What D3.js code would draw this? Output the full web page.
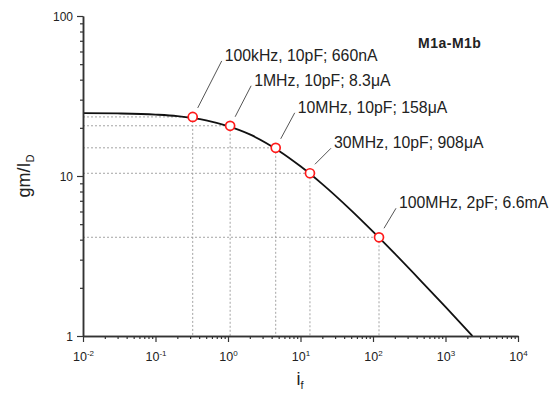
<!DOCTYPE html>
<html>
<head>
<meta charset="utf-8">
<script src="https://cdn.jsdelivr.net/npm/d3@7"></script>
<style>
  body { margin: 0; background: #fff; }
  svg { display: block; font-family: Arial, "Liberation Sans", Helvetica, sans-serif; }
</style>
</head>
<body>
<svg id="chart" width="550" height="399"></svg>
<script>
// ---- data ----
const curveIf   = [0.01, 0.03, 0.1, 0.2, 0.5, 1, 2, 5, 10, 20, 50, 100, 200, 500, 1000, 2350];
const curveGmId = [24.74, 24.6, 24.2, 23.7, 22.3, 20.5, 18.2, 14.4, 11.5, 8.9, 6.1, 4.49, 3.27, 2.12, 1.52, 1.0];

const pointIf    = [0.326, 1.07, 4.55, 13.5, 121];
const pointGmId  = [23.4, 20.6, 15.0, 10.4, 4.14];
const pointLabel = ["100kHz, 10pF; 660nA", "1MHz, 10pF; 8.3\u03BCA", "10MHz, 10pF; 158\u03BCA",
                    "30MHz, 10pF; 908\u03BCA", "100MHz, 2pF; 6.6mA"];

const xMajorTicks = [0.01, 0.1, 1, 10, 100, 1000, 10000];
const xTickExp    = ["-2", "-1", "0", "1", "2", "3", "4"];
const yMajorTicks = [1, 10, 100];
const yTickLabels = ["1", "10", "100"];
const title = "M1a-M1b";

// ---- layout ----
const svg = d3.select("#chart");
const x = d3.scaleLog().domain([0.01, 10000]).range([83, 518]);
const y = d3.scaleLog().domain([1, 100]).range([336, 16]);
const axisColor = "#333";
// label offsets (dx, dy) of each annotation text from its point
const labelDx = [32, 24, 22, 24, 20];
const labelDy = [-56, -40, -35, -25, -29];

function minorTicks(domain) {
  const out = [];
  for (let e = Math.log10(domain[0]); e < Math.log10(domain[1]); e++) {
    for (let k = 2; k <= 9; k++) out.push(k * Math.pow(10, e));
  }
  return out;
}

// dotted guide lines
const pts = pointIf.map((v, i) => ({ xi: v, yv: pointGmId[i], label: pointLabel[i], dx: labelDx[i], dy: labelDy[i] }));
const guides = svg.append("g").attr("stroke", "#9a9a9a").attr("stroke-width", 0.9).attr("stroke-dasharray", "2,2");
pts.forEach(p => {
  guides.append("line").attr("x1", x(0.01)).attr("x2", x(p.xi)).attr("y1", y(p.yv)).attr("y2", y(p.yv));
  guides.append("line").attr("x1", x(p.xi)).attr("x2", x(p.xi)).attr("y1", y(p.yv)).attr("y2", y(1));
});

// curve
const line = d3.line().x(d => x(d[0])).y(d => y(d[1])).curve(d3.curveMonotoneX);
svg.append("path")
  .datum(curveIf.map((v, i) => [v, curveGmId[i]]))
  .attr("d", line)
  .attr("fill", "none")
  .attr("stroke", "#111")
  .attr("stroke-width", 1.8);

// axes
function styleAxis(g) {
  g.select(".domain").attr("stroke", axisColor).attr("stroke-width", 1.5);
  g.selectAll(".tick line").attr("stroke", axisColor).attr("stroke-width", 1.2);
}
// y axis
svg.append("g").attr("transform", `translate(${x(0.01)},0)`)
  .call(d3.axisLeft(y).tickValues(minorTicks([1, 100])).tickSize(3).tickFormat("").tickSizeOuter(0))
  .call(styleAxis);
const yAx = svg.append("g").attr("transform", `translate(${x(0.01)},0)`)
  .call(d3.axisLeft(y).tickValues(yMajorTicks).tickSize(6).tickSizeOuter(0)
        .tickFormat((d, i) => yTickLabels[i]))
  .call(styleAxis);
yAx.selectAll(".tick text").attr("font-size", 12).attr("fill", "#222").attr("x", -10).attr("dy", "0.35em");

// x axis
svg.append("g").attr("transform", `translate(0,${y(1)})`)
  .call(d3.axisBottom(x).tickValues(minorTicks([0.01, 10000])).tickSize(3).tickFormat("").tickSizeOuter(0))
  .call(styleAxis);
const xAx = svg.append("g").attr("transform", `translate(0,${y(1)})`)
  .call(d3.axisBottom(x).tickValues(xMajorTicks).tickSize(6).tickSizeOuter(0).tickFormat(""))
  .call(styleAxis);
xAx.selectAll(".tick").each(function (d, i) {
  const t = d3.select(this).append("text")
    .attr("y", 25).attr("fill", "#222").attr("font-size", 12.5).attr("text-anchor", "middle");
  t.append("tspan").text("10");
  t.append("tspan").attr("dy", -5).attr("font-size", 8).text(xTickExp[i]);
});

// axis titles
const yt = svg.append("text")
  .attr("transform", `translate(30,176) rotate(-90)`)
  .attr("text-anchor", "middle").attr("font-size", 18).attr("fill", "#222");
yt.append("tspan").text("gm/I");
yt.append("tspan").attr("font-size", 11).attr("dy", 4).text("D");

const xt = svg.append("text")
  .attr("x", 300).attr("y", 385).attr("text-anchor", "middle").attr("font-size", 18).attr("fill", "#222");
xt.append("tspan").text("i");
xt.append("tspan").attr("font-size", 11).attr("dy", 4).text("f");

// annotations
const ann = svg.append("g");
pts.forEach(p => {
  const px = x(p.xi), py = y(p.yv);
  const tx = px + p.dx, ty = py + p.dy;
  ann.append("line")
    .attr("x1", px + 5).attr("y1", py - 9)
    .attr("x2", tx - 3).attr("y2", ty)
    .attr("stroke", "#555").attr("stroke-width", 1);
  ann.append("text").attr("x", tx).attr("y", ty)
    .attr("font-size", 15.8).attr("fill", "#222").text(p.label);
});

// points
svg.append("g").selectAll("circle").data(pts).join("circle")
  .attr("cx", d => x(d.xi)).attr("cy", d => y(d.yv)).attr("r", 4.5)
  .attr("fill", "#fff").attr("stroke", "#ff1a1a").attr("stroke-width", 1.7);

// title
svg.append("text").attr("x", 418).attr("y", 48).attr("font-size", 14).attr("font-weight", "bold")
  .attr("letter-spacing", 0.5).attr("fill", "#222").text(title);
</script>
</body>
</html>
